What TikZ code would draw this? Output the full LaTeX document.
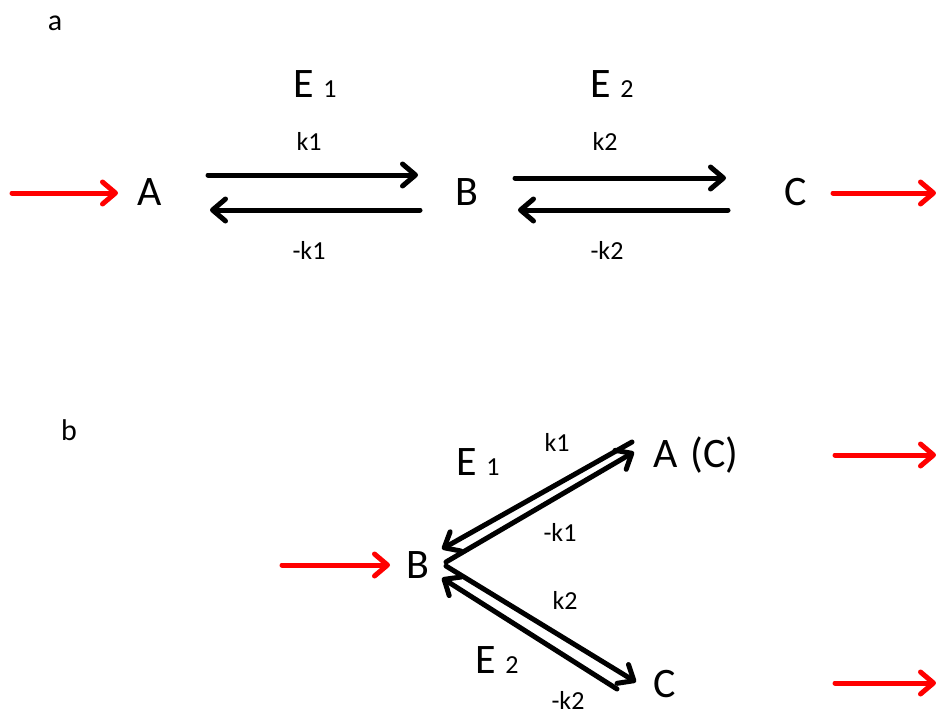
\documentclass[tikz,border=0pt]{standalone}
\usepackage{fontspec}
\setmainfont{Carlito}
\usetikzlibrary{arrows.meta}
\begin{document}
\begin{tikzpicture}[x=1pt,y=-1pt,
  big/.style={inner sep=0pt,anchor=base,font=\fontsize{42}{46}\selectfont},
  small/.style={inner sep=0pt,anchor=base,font=\fontsize{26}{30}\selectfont},
  tag/.style={inner sep=0pt,anchor=base,font=\fontsize{30}{34}\selectfont},
  rx/.style={draw=black,line width=5pt,line cap=round,line join=round,-{Straight Barb[length=13pt,width=22pt,line join=round,line cap=round]}},
  red/.style={draw=red,line width=5pt,line cap=round,line join=round,-{Straight Barb[length=13pt,width=22pt,line join=round,line cap=round]}}]
\useasboundingbox (0,0) rectangle (936,716);
\newcommand{\sub}[1]{{\fontsize{26}{28}\selectfont #1}}
% part a
\node[tag] (la) at (55,30) {a};
\node[big] (A) at (150,205) {A};
\node[big] (Ba) at (467,205) {B};
\node[big] (Ca) at (796,205) {C};
\node[big] (E1a) at (315,97) {E \sub{1}};
\node[big] (E2a) at (612,97) {E \sub{2}};
\node[small] (k1a) at (309,150) {k1};
\node[small] (mk1a) at (309,259) {-k1};
\node[small] (k2a) at (605,150) {k2};
\node[small] (mk2a) at (607,259) {-k2};
\coordinate (r1s) at (12,193); \coordinate (r1e) at (118,193);
\coordinate (f1s) at (208,175); \coordinate (f1e) at (418,175);
\coordinate (b1s) at (420,210); \coordinate (b1e) at (210,210);
\coordinate (f2s) at (515,178); \coordinate (f2e) at (726,178);
\coordinate (b2s) at (728,210); \coordinate (b2e) at (518,210);
\coordinate (r2s) at (833,193); \coordinate (r2e) at (936,193);
\draw[red] (r1s) -- (r1e);
\draw[rx] (f1s) -- (f1e);
\draw[rx] (b1s) -- (b1e);
\draw[rx] (f2s) -- (f2e);
\draw[rx] (b2s) -- (b2e);
\draw[red] (r2s) -- (r2e);
% part b
\node[tag] (lb) at (69,440) {b};
\node[big] (Bb) at (418,578) {B};
\node[big] (AC) at (696,467) {A\hspace{0.3em}(C)};
\node[big] (Cb) at (665,697) {C};
\node[big] (E1b) at (478,475) {E \sub{1}};
\node[big] (E2b) at (497,673) {E \sub{2}};
\node[small] (k1b) at (557,451) {k1};
\node[small] (mk1b) at (560,541) {-k1};
\node[small] (k2b) at (565,609) {k2};
\node[small] (mk2b) at (568,709) {-k2};
\coordinate (u1s) at (632,442); \coordinate (u1e) at (442,549);
\coordinate (u2s) at (446,562); \coordinate (u2e) at (634,452);
\coordinate (l1s) at (446,566); \coordinate (l1e) at (636,682);
\coordinate (l2s) at (617,689); \coordinate (l2e) at (442,578);
\coordinate (r3s) at (282,565); \coordinate (r3e) at (390,565);
\coordinate (r4s) at (835,455); \coordinate (r4e) at (936,455);
\coordinate (r5s) at (835,683); \coordinate (r5e) at (936,683);
\draw[rx] (u1s) -- (u1e);
\draw[rx] (u2s) -- (u2e);
\draw[rx] (l1s) -- (l1e);
\draw[rx] (l2s) -- (l2e);
\draw[red] (r3s) -- (r3e);
\draw[red] (r4s) -- (r4e);
\draw[red] (r5s) -- (r5e);
\end{tikzpicture}
\end{document}
